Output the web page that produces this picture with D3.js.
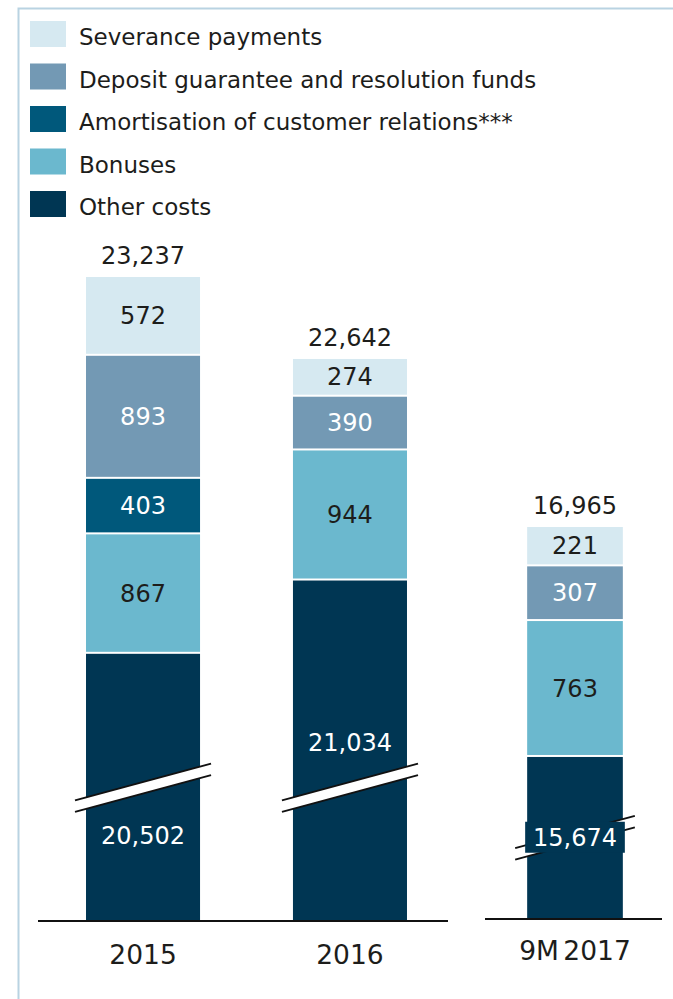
<!DOCTYPE html>
<html>
<head>
<meta charset="utf-8">
<script src="https://cdn.jsdelivr.net/npm/d3@7"></script>
<style>
  html, body { margin: 0; padding: 0; background: #fff; }
  svg { display: block; font-family: "DejaVu Sans", sans-serif; }
</style>
</head>
<body>
<svg id="chart" width="673" height="999"></svg>
<script>
// Cost components per period (EUR m)
const categories   = ["2015", "2016", "9M 2017"];
const otherCosts   = [20502, 21034, 15674];
const bonuses      = [867, 944, 763];
const amortisation = [403, 0, 0];
const deposit      = [893, 390, 307];
const severance    = [572, 274, 221];

const seriesNames = [
  "Other costs",
  "Bonuses",
  "Amortisation of customer relations***",
  "Deposit guarantee and resolution funds",
  "Severance payments"
];
const seriesValues = [otherCosts, bonuses, amortisation, deposit, severance];
const seriesColors = ["#003653", "#6bb8ce", "#00587b", "#7399b4", "#d6e9f1"];
const seriesLight  = [false, true, false, false, true];

// Axis floor where the broken "Other costs" bars start, per panel
const panelCats   = [["2015", "2016"], ["9M 2017"]];
const panelFloor  = [18570, 14770];

const svg = d3.select("#chart");
const fmt = d3.format(",");

// frame
svg.append("path")
  .attr("d", "M18.5,999 V8.5 H673")
  .attr("fill", "none")
  .attr("stroke", "#b9d3e2")
  .attr("stroke-width", 2);

// legend (top-down order)
const legendOrder = [4, 3, 2, 1, 0];
const legend = svg.append("g");
legendOrder.forEach((si, i) => {
  const y = 21 + i * 42.5;
  legend.append("rect")
    .attr("x", 30).attr("y", y).attr("width", 36).attr("height", 26)
    .attr("fill", seriesColors[si]);
  legend.append("text")
    .attr("x", 79).attr("y", y + 24)
    .attr("font-size", 23).attr("fill", "#1d1d1b")
    .text(seriesNames[si]);
});

// stacked rows
const rows = categories.map((c, i) => {
  const r = { cat: c };
  seriesNames.forEach((n, s) => r[n] = seriesValues[s][i]);
  return r;
});
const stack = d3.stack().keys(seriesNames)(rows);
const totals = rows.map(r => d3.sum(seriesNames, n => r[n]));

// panel layout
const panels = [
  {
    x: d3.scaleBand().domain(panelCats[0]).range([38, 455]).paddingInner(0.449).paddingOuter(0.232),
    y: d3.scaleLinear().domain([panelFloor[0], d3.max(totals.slice(0, 2))]).range([920, 277]),
    base: 920, lineX: [38, 448], breakUp: 138, boxed: false
  },
  {
    x: d3.scaleBand().domain(panelCats[1]).range([483, 667]).paddingInner(0.48).paddingOuter(0.2),
    y: d3.scaleLinear().domain([panelFloor[1], totals[2]]).range([918, 527]),
    base: 918, lineX: [485, 662], breakUp: 86, boxed: true
  }
];
const panelOf = c => panelCats[0].includes(c) ? 0 : 1;

const bars = svg.append("g");
const labels = svg.append("g");

categories.forEach((c, ci) => {
  const p = panels[panelOf(c)];
  const x0 = p.x(c), bw = p.x.bandwidth(), cx = x0 + bw / 2;
  const yOf = v => Math.min(p.y(v), p.base);

  stack.forEach((layer, si) => {
    const d = layer[ci];
    if (d[1] - d[0] <= 0) return;
    const lo = si === 0 ? p.base : yOf(d[0]);
    const hi = yOf(d[1]);
    bars.append("rect")
      .attr("x", x0).attr("width", bw)
      .attr("y", hi)
      .attr("height", lo - hi - (si === 0 ? 0 : 2))
      .attr("fill", seriesColors[si]);

    if (si > 0) {
      labels.append("text")
        .attr("x", cx).attr("y", (hi + lo - 2) / 2)
        .attr("dy", "0.36em")
        .attr("text-anchor", "middle")
        .attr("font-size", 24)
        .attr("fill", seriesLight[si] ? "#1d1d1b" : "#ffffff")
        .text(fmt(d[1] - d[0]));
    }
  });

  // axis break across the "Other costs" bar
  const by = p.base - p.breakUp;
  const ext = p.boxed ? 12 : 11;
  const halfW = bw / 2 + ext;
  const rise = halfW * 0.27;
  const gap = 11.5;
  const xa = cx - halfW, xb = cx + halfW;
  bars.append("path")
    .attr("d", `M${xa},${by + rise} L${xb},${by - rise} L${xb},${by - rise + gap} L${xa},${by + rise + gap} Z`)
    .attr("fill", "#ffffff");
  [0, gap].forEach(off => {
    bars.append("line")
      .attr("x1", xa).attr("y1", by + rise + off)
      .attr("x2", xb).attr("y2", by - rise + off)
      .attr("stroke", "#111").attr("stroke-width", 2);
  });

  // "Other costs" value label
  const oTop = yOf(stack[0][ci][1]);
  const oCenter = (oTop + p.base) / 2;
  let ly;
  if (p.boxed) {
    ly = by + gap / 2;
    labels.append("rect")
      .attr("x", x0 - 2).attr("width", bw + 4)
      .attr("y", ly - 16).attr("height", 31)
      .attr("fill", seriesColors[0]);
  } else if (Math.abs(oCenter - (by + gap / 2)) < 30) {
    ly = by + gap / 2 + 48;
  } else {
    ly = oCenter - 8;
  }
  labels.append("text")
    .attr("x", cx).attr("y", ly).attr("dy", "0.36em")
    .attr("text-anchor", "middle")
    .attr("font-size", 24).attr("fill", "#ffffff")
    .text(fmt(otherCosts[ci]));

  // total on top
  labels.append("text")
    .attr("x", cx).attr("y", yOf(totals[ci]) - 13)
    .attr("text-anchor", "middle")
    .attr("font-size", 24).attr("fill", "#1d1d1b")
    .text(fmt(totals[ci]));

  // category label
  labels.append("text")
    .attr("x", cx).attr("y", p.base + (p.boxed ? 42 : 44))
    .attr("text-anchor", "middle")
    .attr("font-size", 26.5).attr("fill", "#1d1d1b")
    .attr("word-spacing", p.boxed ? -4 : 0)
    .text(c);
});

// baselines
panels.forEach(p => {
  svg.append("line")
    .attr("x1", p.lineX[0]).attr("x2", p.lineX[1])
    .attr("y1", p.base + 1).attr("y2", p.base + 1)
    .attr("stroke", "#111").attr("stroke-width", 2);
});
</script>
</body>
</html>
